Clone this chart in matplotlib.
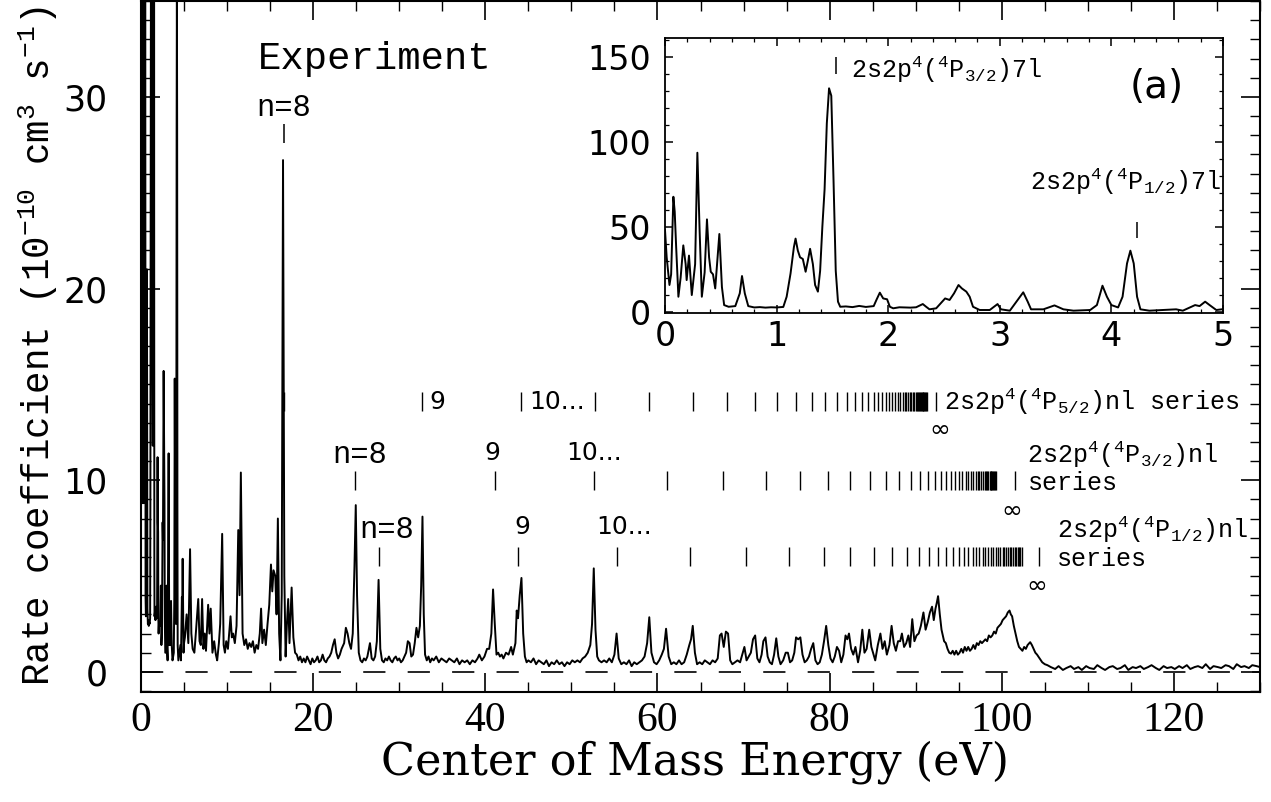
import numpy as np
import matplotlib
matplotlib.use("Agg")
import matplotlib.pyplot as plt
from matplotlib.ticker import MultipleLocator

plt.rcParams['mathtext.fontset'] = 'custom'
plt.rcParams['mathtext.rm'] = 'Liberation Mono'
plt.rcParams['mathtext.it'] = 'Liberation Mono'
plt.rcParams['mathtext.bf'] = 'Liberation Mono'
plt.rcParams['lines.scale_dashes'] = False

# ---------------- data (energy eV, rate 1e-10 cm^3/s) ----------------
# inset: 0-5 eV (also the low-energy part of the main spectrum)
inset_lo = [(0.0, 48), (0.015, 32), (0.04, 15.7), (0.055, 22), (0.075, 67.6), (0.087, 58.8),
            (0.1, 38), (0.12, 8.8), (0.14, 20), (0.164, 39), (0.185, 28), (0.194, 18.6),
            (0.215, 33), (0.24, 9.8), (0.27, 28), (0.29, 93.5), (0.31, 48), (0.33, 8.8),
            (0.355, 23), (0.376, 54.3), (0.395, 32), (0.41, 23.5), (0.43, 22), (0.45, 13.7),
            (0.487, 45.7), (0.51, 14.5), (0.53, 3.9), (0.57, 2.9), (0.63, 3.3), (0.67, 10.8),
            (0.69, 21), (0.715, 10.8), (0.746, 3.3), (0.8, 2.5), (0.85, 2.7), (0.9, 2.4),
            (0.95, 2.6), (1.0, 2.5), (1.06, 2.8), (1.09, 8.8), (1.125, 22.5), (1.155, 38),
            (1.17, 43), (1.19, 36), (1.21, 32), (1.235, 31), (1.26, 23.5), (1.28, 30),
            (1.3, 37), (1.325, 28), (1.345, 15.7), (1.37, 11.8), (1.39, 24), (1.41, 50),
            (1.43, 72), (1.45, 110.8), (1.47, 131.4), (1.49, 127), (1.51, 77.5), (1.53, 24),
            (1.55, 5.9), (1.57, 2.9)]
inset_hi = [(1.62, 3.1), (1.68, 2.7), (1.74, 3.4), (1.8, 2.8), (1.87, 3.3), (1.895, 7),
            (1.925, 11.2), (1.955, 7.8), (1.99, 7.3), (2.015, 2.9), (2.045, 2.0), (2.1, 2.6),
            (2.2, 2.4), (2.25, 2.6), (2.31, 4.5), (2.34, 2.9), (2.37, 1.4), (2.43, 2.0),
            (2.51, 7.8), (2.55, 6.9), (2.59, 10.8), (2.63, 15.7), (2.66, 13.7), (2.70, 11.8),
            (2.73, 8.8), (2.76, 2.9), (2.82, 1.0), (2.91, 1.0), (2.98, 4.5), (3.01, 1.4),
            (3.09, 0.6), (3.16, 6.9), (3.21, 11.4), (3.25, 5.9), (3.28, 1.4), (3.39, 1.4),
            (3.49, 3.7), (3.57, 1.4), (3.66, 0.6), (3.81, 1.0), (3.87, 3.9), (3.92, 15.3),
            (3.96, 8.8), (4.0, 3.9), (4.06, 2.5), (4.1, 8.8), (4.14, 28.4), (4.17, 35.9),
            (4.2, 28.4), (4.23, 8.8), (4.26, 1.4), (4.34, 0.6), (4.46, 1.0), (4.58, 1.4),
            (4.64, 0.6), (4.75, 3.9), (4.79, 3.3), (4.84, 5.9), (4.88, 3.9), (4.94, 1.0),
            (5.0, 1.5)]

main_5_18 = [(5.1, 1.8), (5.3, 3.0), (5.5, 1.5), (5.7, 6.4), (5.85, 2.0), (6.0, 1.2), (6.2, 1.0),
             (6.4, 2.2), (6.65, 3.8), (6.8, 1.6), (6.95, 1.4), (7.1, 3.8), (7.25, 1.2), (7.4, 2.0),
             (7.55, 1.1), (7.8, 3.5), (7.95, 2.0), (8.1, 3.3), (8.3, 1.0), (8.5, 1.6), (8.7, 0.9),
             (8.85, 0.6), (9.05, 1.5), (9.2, 2.5), (9.43, 7.2), (9.6, 1.4), (9.75, 1.0), (9.9, 1.6),
             (10.1, 1.2), (10.4, 2.9), (10.55, 1.8), (10.7, 2.0), (10.9, 1.5), (11.1, 2.4),
             (11.3, 7.4), (11.45, 4.0), (11.6, 10.4), (11.8, 2.0), (12.0, 1.4), (12.2, 1.7),
             (12.4, 1.2), (12.6, 1.5), (12.8, 1.3), (13.0, 1.6), (13.2, 1.0), (13.4, 1.4),
             (13.6, 1.2), (13.8, 2.0), (13.95, 3.3), (14.1, 1.5), (14.3, 2.2), (14.5, 1.4),
             (14.7, 2.5), (14.9, 3.5), (15.1, 5.6), (15.25, 4.2), (15.4, 5.3), (15.6, 5.0),
             (15.75, 3.0), (15.9, 8.0), (16.05, 2.0), (16.2, 0.6), (16.35, 4.0), (16.5, 26.7),
             (16.65, 5.0), (16.8, 0.8), (16.95, 2.5), (17.1, 3.8), (17.25, 1.5), (17.5, 4.4),
             (17.7, 1.8), (17.9, 1.0)]
main_18_45 = [(18.1, 0.9), (18.3, 0.6), (18.5, 0.8), (18.7, 0.5), (18.9, 0.7), (19.1, 0.5),
              (19.3, 0.8), (19.5, 0.6), (19.7, 0.4), (19.9, 0.7), (20.1, 0.5), (20.3, 0.6),
              (20.5, 0.8), (20.7, 0.5), (20.9, 0.6), (21.1, 0.9), (21.3, 0.6), (21.5, 0.5),
              (21.7, 0.7), (21.9, 0.8), (22.1, 1.0), (22.3, 1.4), (22.5, 1.7), (22.7, 1.0),
              (22.9, 0.7), (23.1, 0.9), (23.3, 1.2), (23.6, 1.5), (23.8, 2.3), (24.0, 2.0),
              (24.2, 1.5), (24.4, 1.2), (24.6, 2.0), (24.8, 5.5), (24.95, 8.7), (25.1, 4.0),
              (25.3, 1.0), (25.5, 0.6), (25.7, 0.5), (25.9, 0.7), (26.1, 0.6), (26.3, 0.8),
              (26.6, 1.5), (26.8, 0.7), (27.0, 0.6), (27.2, 0.8), (27.4, 1.6), (27.6, 4.8),
              (27.8, 1.2), (28.0, 0.6), (28.2, 0.5), (28.4, 0.7), (28.6, 0.6), (28.8, 0.8),
              (29.0, 0.6), (29.2, 0.5), (29.4, 0.7), (29.6, 0.8), (29.8, 0.6), (30.0, 0.7),
              (30.2, 0.5), (30.4, 0.6), (30.6, 0.8), (30.8, 1.0), (31.0, 1.6), (31.2, 1.5),
              (31.4, 0.8), (31.6, 0.9), (31.8, 1.5), (32.0, 2.3), (32.2, 1.8), (32.4, 2.4),
              (32.55, 4.5), (32.7, 8.1), (32.85, 3.0), (33.0, 0.9), (33.2, 0.6), (33.4, 0.8),
              (33.6, 0.5), (33.8, 0.7), (34.0, 0.6), (34.3, 0.8), (34.6, 0.5), (34.9, 0.7),
              (35.2, 0.6), (35.5, 0.5), (35.8, 0.7), (36.1, 0.6), (36.4, 0.5), (36.7, 0.7),
              (37.0, 0.4), (37.3, 0.6), (37.6, 0.5), (37.9, 0.6), (38.2, 0.4), (38.5, 0.6),
              (38.8, 0.5), (39.1, 0.7), (39.3, 0.9), (39.6, 0.6), (39.9, 0.8), (40.2, 1.2),
              (40.45, 1.2), (40.7, 2.0), (40.9, 4.3), (41.1, 2.5), (41.3, 0.9), (41.5, 1.0),
              (41.7, 0.8), (41.9, 0.9), (42.1, 0.7), (42.4, 1.0), (42.7, 0.9), (43.0, 1.3),
              (43.2, 0.9), (43.5, 1.5), (43.65, 3.2), (43.8, 2.8), (44.0, 4.0), (44.2, 4.9),
              (44.4, 2.0), (44.6, 0.8), (44.8, 0.5)]
main_45_85 = [(45.0, 0.6), (45.3, 0.5), (45.6, 0.7), (45.9, 0.4), (46.2, 0.6), (46.5, 0.5),
              (46.8, 0.4), (47.1, 0.6), (47.4, 0.3), (47.7, 0.5), (48.0, 0.4), (48.3, 0.6),
              (48.6, 0.4), (48.9, 0.5), (49.2, 0.3), (49.5, 0.5), (49.8, 0.4), (50.1, 0.6),
              (50.4, 0.5), (50.7, 0.6), (51.0, 0.5), (51.3, 0.7), (51.6, 0.8), (51.9, 1.0),
              (52.2, 1.4), (52.4, 2.5), (52.6, 5.4), (52.8, 2.2), (53.0, 0.8), (53.2, 0.6),
              (53.5, 0.5), (53.8, 0.6), (54.1, 0.5), (54.4, 0.7), (54.7, 0.5), (55.0, 0.9),
              (55.25, 2.0), (55.5, 0.7), (55.8, 0.4), (56.1, 0.5), (56.4, 0.4), (56.7, 0.6),
              (57.0, 0.3), (57.3, 0.5), (57.6, 0.4), (57.9, 0.5), (58.2, 0.6), (58.5, 0.8),
              (58.8, 1.5), (59.05, 2.85), (59.3, 1.0), (59.6, 0.5), (59.9, 0.4), (60.2, 0.6),
              (60.5, 0.9), (60.75, 1.2), (61.0, 2.25), (61.3, 0.8), (61.6, 0.4), (61.9, 0.5),
              (62.2, 0.4), (62.5, 0.6), (62.8, 0.4), (63.1, 0.5), (63.4, 0.9), (63.7, 1.4),
              (63.9, 1.7), (64.1, 2.4), (64.35, 1.0), (64.6, 0.4), (64.9, 0.5), (65.2, 0.4),
              (65.5, 0.6), (65.8, 0.5), (66.1, 0.4), (66.4, 0.6), (66.7, 0.5), (67.0, 0.7),
              (67.25, 1.9), (67.45, 2.0), (67.7, 1.3), (67.95, 2.1), (68.2, 2.0), (68.45, 0.6),
              (68.7, 0.4), (69.0, 0.5), (69.3, 0.6), (69.6, 0.5), (69.85, 0.9), (70.1, 1.3),
              (70.35, 0.6), (70.6, 0.8), (70.85, 1.0), (71.1, 1.7), (71.35, 1.9), (71.6, 0.7),
              (71.85, 0.5), (72.1, 0.9), (72.3, 1.6), (72.55, 1.8), (72.8, 0.8), (73.05, 0.5),
              (73.3, 0.4), (73.55, 0.9), (73.8, 1.75), (74.05, 0.8), (74.3, 0.4), (74.6, 0.6),
              (74.9, 1.0), (75.15, 1.0), (75.4, 0.5), (75.65, 0.6), (75.9, 1.0), (76.1, 1.8),
              (76.35, 1.7), (76.6, 1.8), (76.85, 0.9), (77.1, 0.5), (77.35, 0.6), (77.6, 0.8),
              (77.85, 1.2), (78.1, 1.5), (78.35, 0.6), (78.6, 0.4), (78.85, 0.5), (79.1, 0.9),
              (79.35, 1.6), (79.6, 2.4), (79.85, 1.4), (80.1, 0.7), (80.35, 0.5), (80.6, 0.8),
              (80.85, 1.3), (81.1, 1.1), (81.35, 0.5), (81.6, 0.9), (81.85, 1.9), (82.05, 1.7),
              (82.25, 2.0), (82.5, 1.2), (82.75, 0.9), (83.0, 1.3), (83.3, 0.5), (83.55, 1.1),
              (83.8, 2.2), (84.05, 1.0), (84.3, 1.2), (84.6, 2.2), (84.85, 1.3), (85.1, 0.9)]
main_85_105 = [(85.3, 0.6), (85.6, 1.4), (85.9, 2.0), (86.15, 1.2), (86.4, 1.6), (86.65, 0.9),
               (86.95, 1.4), (87.2, 2.4), (87.45, 1.5), (87.7, 1.1), (87.95, 1.6), (88.2, 1.6),
               (88.4, 2.0), (88.65, 1.3), (88.9, 1.5), (89.15, 1.9), (89.35, 1.3), (89.6, 2.75),
               (89.85, 1.6), (90.1, 1.9), (90.35, 2.0), (90.6, 2.4), (90.9, 3.1), (91.15, 2.2),
               (91.4, 2.6), (91.65, 3.1), (91.9, 3.4), (92.1, 2.7), (92.3, 3.3), (92.45, 3.6),
               (92.6, 3.95), (92.8, 3.0), (93.0, 2.2), (93.1, 2.0), (93.3, 1.6), (93.5, 1.5),
               (93.7, 1.2), (93.9, 1.0), (94.1, 0.95), (94.3, 1.1), (94.5, 0.9), (94.7, 1.1),
               (94.9, 0.9), (95.1, 1.0), (95.3, 1.2), (95.5, 1.0), (95.7, 1.3), (95.9, 1.1),
               (96.1, 1.3), (96.3, 1.1), (96.5, 1.2), (96.7, 1.4), (96.9, 1.2), (97.1, 1.5),
               (97.3, 1.4), (97.5, 1.6), (97.7, 1.5), (97.9, 1.6), (98.1, 1.7), (98.3, 1.6),
               (98.5, 1.9), (98.7, 1.8), (98.9, 1.9), (99.1, 2.1), (99.3, 2.0), (99.5, 2.3),
               (99.7, 2.4), (99.9, 2.5), (100.1, 2.7), (100.3, 2.8), (100.5, 2.9), (100.7, 3.1),
               (100.9, 3.2), (101.05, 3.0), (101.2, 2.9), (101.4, 2.4), (101.6, 2.0), (101.8, 1.6),
               (102.0, 1.3), (102.2, 1.2), (102.4, 1.1), (102.6, 1.3), (102.8, 1.2), (103.0, 1.4),
               (103.3, 1.55), (103.5, 1.4), (103.7, 1.2), (103.9, 1.0), (104.1, 0.9), (104.4, 0.7),
               (104.7, 0.5), (105.0, 0.4), (105.3, 0.35)]
tail_E = [105.7, 106.2, 106.6, 107.1, 107.5, 108.0, 108.4, 108.9, 109.3, 109.8,
          110.2, 110.7, 111.1, 111.6, 112.0, 112.5, 112.9, 113.4, 113.8, 114.3,
          114.7, 115.2, 115.6, 116.1, 116.5, 117.0, 117.4, 117.9, 118.3, 118.8,
          119.2, 119.7, 120.1, 120.6, 121.0, 121.5, 121.9, 122.4, 122.8, 123.3,
          123.7, 124.2, 124.6, 125.1, 125.5, 126.0, 126.4, 126.9, 127.3, 127.8,
          128.2, 128.7, 129.1, 129.6, 130.0]
tail_rate = [0.25, 0.15, 0.3, 0.1, 0.2, 0.3, 0.15, 0.25, 0.1, 0.3,
             0.2, 0.15, 0.35, 0.2, 0.1, 0.25, 0.3, 0.15, 0.2, 0.35,
             0.1, 0.25, 0.2, 0.3, 0.15, 0.25, 0.35, 0.2, 0.1, 0.3,
             0.2, 0.25, 0.15, 0.3, 0.2, 0.35, 0.15, 0.25, 0.3, 0.2,
             0.4, 0.15, 0.3, 0.25, 0.2, 0.35, 0.3, 0.15, 0.4, 0.25,
             0.3, 0.2, 0.35, 0.3, 0.25]

# Rydberg series marker positions (eV); last entry = series limit
series_52 = [16.6, 32.7, 44.2, 52.7, 59.0, 64.1, 68.1, 71.3, 73.9, 76.1, 77.9, 79.5, 80.9,
             82.0, 83.0, 83.8, 84.5, 85.1, 85.6, 86.1, 86.5, 86.9, 87.3, 87.6, 87.9, 88.2,
             88.5, 88.7, 88.9, 89.1, 89.3, 89.5, 89.7, 89.85, 90.0, 90.15, 90.3, 90.4, 90.5,
             90.6, 90.7, 90.8, 90.9, 91.0, 91.1, 91.2, 91.3, 92.4]
series_32 = [24.9, 41.1, 52.6, 61.1, 67.6, 72.6, 76.6, 79.8, 82.4, 84.7, 86.6, 88.1, 89.4,
             90.5, 91.4, 92.2, 92.9, 93.5, 94.1, 94.6, 95.0, 95.4, 95.8, 96.1, 96.4, 96.7,
             97.0, 97.2, 97.4, 97.6, 97.8, 98.0, 98.15, 98.3, 98.45, 98.6, 98.7, 98.8, 98.9,
             99.0, 99.1, 99.2, 99.3, 101.5]
series_12 = [27.7, 43.8, 55.3, 63.8, 70.3, 75.3, 79.3, 82.4, 85.1, 87.3, 89.0, 90.4, 91.6,
             92.6, 93.5, 94.3, 95.0, 95.6, 96.1, 96.6, 97.0, 97.4, 97.8, 98.1, 98.4, 98.7,
             99.0, 99.3, 99.6, 99.85, 100.1, 100.3, 100.5, 100.7, 100.9, 101.1, 101.3, 101.5,
             101.7, 101.85, 102.0, 102.15, 102.3, 104.3]

inset_pts = inset_lo + inset_hi
inset_E = [p[0] for p in inset_pts]
inset_rate = [p[1] for p in inset_pts]
main_pts = inset_pts + main_5_18 + main_18_45 + main_45_85 + main_85_105
main_E = [p[0] for p in main_pts] + tail_E
main_rate = [p[1] for p in main_pts] + tail_rate

MONO = 'Liberation Mono'
SANS = 'DejaVu Sans'

fig = plt.figure(figsize=(12.71, 8.02), dpi=100)
W, H = 1271.0, 802.0
ax = fig.add_axes([141 / W, 1 - 692 / H, 1119 / W, 691 / H])
ax.plot(main_E, main_rate, color='k', lw=1.4)
ax.axhline(0, color='k', lw=1.2, ls=(0, (16, 16)))
ax.set_xlim(0, 130)
ax.set_ylim(-1.05, 35)
ax.xaxis.set_major_locator(MultipleLocator(20))
ax.xaxis.set_minor_locator(MultipleLocator(5))
ax.yaxis.set_major_locator(MultipleLocator(10))
ax.yaxis.set_minor_locator(MultipleLocator(1))
ax.tick_params(which='both', direction='in', top=True, right=True)
ax.tick_params(which='major', length=14, width=1.2)
ax.tick_params(which='minor', length=7, width=1.0)
ax.tick_params(axis='y', labelsize=25, pad=24, labelfontfamily=SANS)
ax.tick_params(axis='x', labelsize=30, pad=7, labelfontfamily='Liberation Serif')
for s in ax.spines.values():
    s.set_linewidth(1.5)

ax.set_ylabel("Rate coefficient (10$^{-10}$ cm$^{3}$ s$^{-1}$)", fontsize=27, family=MONO)
ax.yaxis.set_label_coords(-0.072, 0.5)
ax.set_xlabel("Center of Mass Energy (eV)", fontsize=32, family='DejaVu Serif')
ax.xaxis.set_label_coords(0.495, -0.07)

# annotations
ax.text(27.1, 32.0, "Experiment", ha='center', va='center', fontsize=28, family=MONO)
ax.text(16.6, 29.4, "n=8", ha='center', va='center', fontsize=22, family=MONO)
ax.vlines([16.6], 27.6, 28.6, color='k', lw=1.1)

# series rows
ax.vlines(series_52, 13.6, 14.6, color='k', lw=1.0)
ax.vlines(series_32, 9.5, 10.5, color='k', lw=1.0)
ax.vlines(series_12, 5.5, 6.5, color='k', lw=1.0)

ax.text(33.5, 14.1, "9", ha='left', va='center', fontsize=18, family=SANS)
ax.text(45.1, 14.1, "10...", ha='left', va='center', fontsize=18, family=SANS)
ax.text(93.3, 13.65, "2s2p$^{4}$($^{4}$P$_{5/2}$)nl series", ha='left', va='baseline',
        fontsize=18, family=MONO)
ax.text(92.8, 12.6, "\u221e", ha='center', va='center', fontsize=18, family=SANS)

ax.text(25.4, 11.3, "n=8", ha='center', va='center', fontsize=22, family=MONO)
ax.text(40.8, 11.4, "9", ha='center', va='center', fontsize=18, family=SANS)
ax.text(52.6, 11.4, "10...", ha='center', va='center', fontsize=18, family=SANS)
ax.text(102.9, 10.9, "2s2p$^{4}$($^{4}$P$_{3/2}$)nl", ha='left', va='baseline',
        fontsize=18, family=MONO)
ax.text(103.0, 9.5, "series", ha='left', va='baseline', fontsize=18, family=MONO)
ax.text(101.2, 8.4, "\u221e", ha='center', va='center', fontsize=18, family=SANS)

ax.text(28.6, 7.4, "n=8", ha='center', va='center', fontsize=22, family=MONO)
ax.text(44.35, 7.55, "9", ha='center', va='center', fontsize=18, family=SANS)
ax.text(56.1, 7.55, "10...", ha='center', va='center', fontsize=18, family=SANS)
ax.text(106.4, 7.0, "2s2p$^{4}$($^{4}$P$_{1/2}$)nl", ha='left', va='baseline',
        fontsize=18, family=MONO)
ax.text(106.4, 5.5, "series", ha='left', va='baseline', fontsize=18, family=MONO)
ax.text(104.1, 4.5, "\u221e", ha='center', va='center', fontsize=18, family=SANS)

# ---------------- inset ----------------
axin = fig.add_axes([665 / W, 1 - 313.3 / H, 558 / W, 275 / H])
axin.plot(inset_E, inset_rate, color='k', lw=1.4)
axin.set_xlim(0, 5)
axin.set_ylim(-0.94, 160.8)
axin.xaxis.set_major_locator(MultipleLocator(1))
axin.xaxis.set_minor_locator(MultipleLocator(0.2))
axin.yaxis.set_major_locator(MultipleLocator(50))
axin.yaxis.set_minor_locator(MultipleLocator(10))
axin.tick_params(which='both', direction='in', top=True, right=True)
axin.tick_params(which='major', length=6, width=1.1)
axin.tick_params(which='minor', length=3, width=0.9)
axin.tick_params(axis='y', labelsize=24, pad=10, labelfontfamily=SANS)
axin.tick_params(axis='x', labelsize=24, pad=5, labelfontfamily=SANS)
for s in axin.spines.values():
    s.set_linewidth(1.3)

axin.vlines([1.53], 140, 150, color='k', lw=1.1)
axin.text(1.67, 137.5, "2s2p$^{4}$($^{4}$P$_{3/2}$)7l", ha='left', va='baseline',
          fontsize=18, family=MONO)
axin.vlines([4.23], 43.5, 52.5, color='k', lw=1.1)
axin.text(3.27, 71.6, "2s2p$^{4}$($^{4}$P$_{1/2}$)7l", ha='left', va='baseline',
          fontsize=18, family=MONO)
axin.text(4.41, 132, "(a)", ha='center', va='center', fontsize=28, family=SANS)

fig.savefig("out.png", dpi=100)
